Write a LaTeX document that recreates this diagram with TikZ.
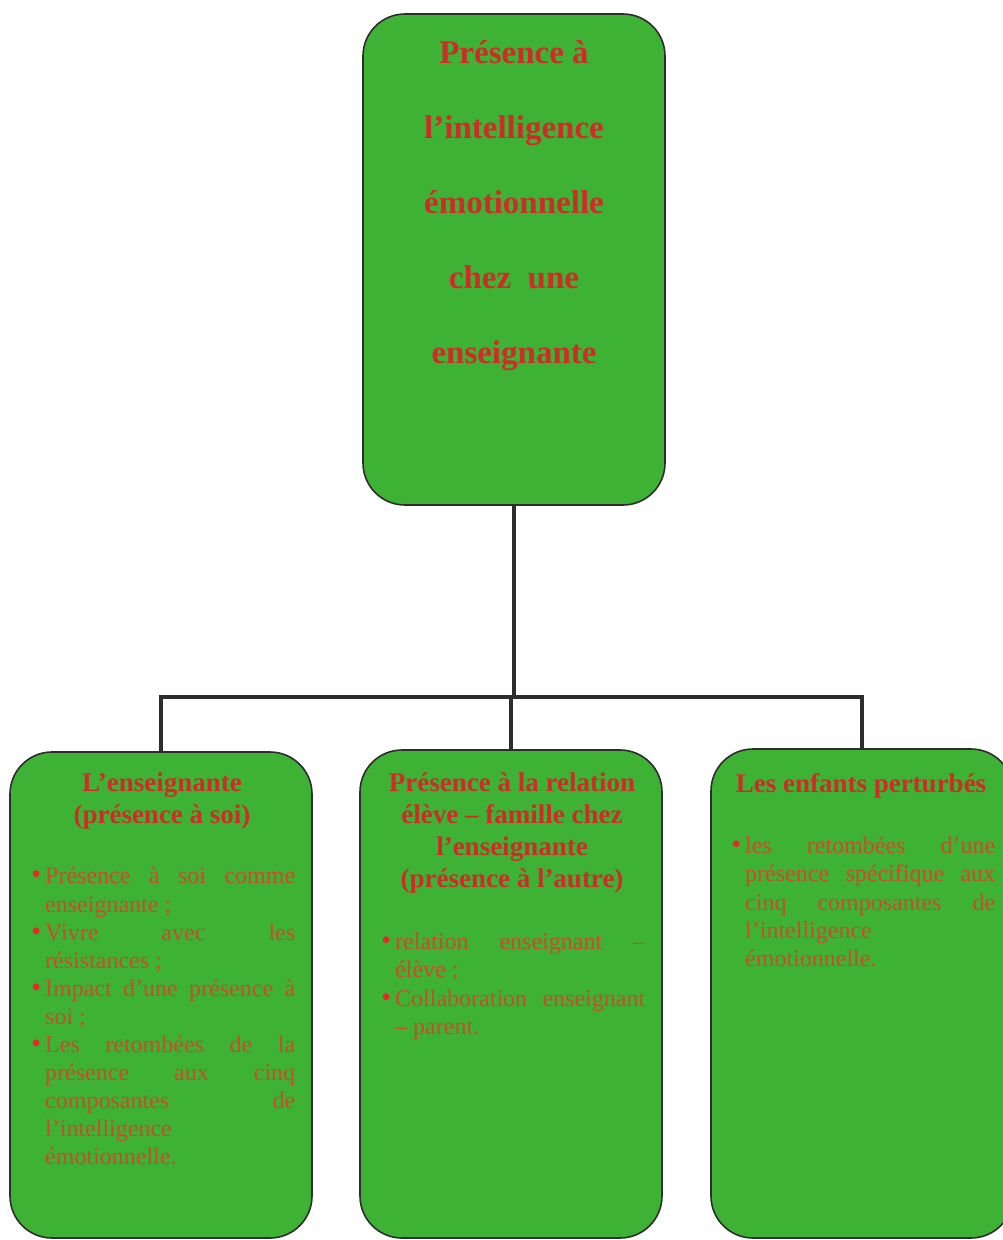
\documentclass[tikz,border=0pt]{standalone}
\usepackage{fontspec}
\setmainfont{Liberation Serif}
\hyphenpenalty=10000
\exhyphenpenalty=10000
\definecolor{boxgreen}{RGB}{62,178,52}
\definecolor{headred}{RGB}{205,45,38}
\definecolor{bodyred}{RGB}{202,76,42}
\definecolor{bulred}{RGB}{232,40,40}
\definecolor{linegray}{RGB}{45,45,45}
\newcommand{\itm}[1]{\noindent\llap{\textcolor{bulred}{\fontsize{28}{28}\selectfont\textbullet}\hspace{4pt}}#1\par}
\tikzset{
  gbox/.style={draw=linegray, line width=1.6pt, fill=boxgreen, rounded corners=42pt, inner sep=0pt, minimum width=302pt},
  hd/.style={text=headred, align=center, inner sep=0pt, anchor=north},
  toptitle/.style={hd, font=\fontsize{33}{75}\selectfont\bfseries},
  subtitle/.style={hd, font=\fontsize{27}{32}\selectfont\bfseries},
  bodytext/.style={text=bodyred, text width=250pt, align=justify, inner sep=0pt, anchor=north west,
    font=\fontsize{24}{28.1}\selectfont},
  conn/.style={draw=linegray, line width=3.5pt}
}
\begin{document}
\begin{tikzpicture}[x=1pt,y=-1pt]
\useasboundingbox (0,0) rectangle (1002,1240);
% boxes
\node[gbox, minimum height=491pt] (top) at (514,259.5) {};
\node[gbox, minimum height=486pt] (left) at (161,995) {};
\node[gbox, minimum height=488pt] (mid) at (511,994) {};
\node[gbox, minimum height=489pt] (right) at (862,993.5) {};
% connectors
\coordinate (bar) at (514,697);
\draw[conn] (top.south) -- (top.south |- bar);
\draw[conn, line cap=rect] (left.north) |- (bar) -| (right.north);
\draw[conn] (mid.north |- bar) -- (mid.north);
% titles
\node[toptitle] (ttl) at (514,40) {Présence à\\l’intelligence\\émotionnelle\\chez\ \ une\\enseignante};
\node[subtitle] (lt) at (162,773) {L’enseignante\\(présence à soi)};
\node[subtitle] (mt) at (512,773) {Présence à la relation\\élève – famille chez\\l’enseignante\\(présence à l’autre)};
\node[subtitle] (rt) at (861,773) {Les enfants perturbés};
% bullet texts
\node[bodytext] (lb) at (45,867) {%
\itm{Présence à soi comme\linebreak enseignante ;}%
\itm{Vivre avec les\linebreak résistances ;}%
\itm{Impact d’une présence à\linebreak soi ;}%
\itm{Les retombées de la\linebreak présence aux cinq\linebreak composantes de\linebreak l’intelligence\newline émotionnelle.}};
\node[bodytext] (mb) at (395,933) {%
\itm{relation enseignant –\linebreak élève ;}%
\itm{Collaboration enseignant\linebreak – parent.}};
\node[bodytext] (rb) at (745,837) {%
\itm{les retombées d’une\linebreak présence spécifique aux\linebreak cinq composantes de\linebreak l’intelligence\newline émotionnelle.}};
\end{tikzpicture}
\end{document}
